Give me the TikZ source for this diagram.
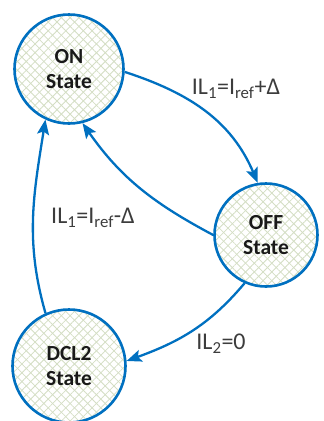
\documentclass[tikz,border=0pt]{standalone}
\usepackage{fontspec}
\setmainfont{Carlito}
\usetikzlibrary{arrows.meta,patterns.meta}
\definecolor{stblue}{RGB}{0,112,192}
\definecolor{hatch}{RGB}{212,222,196}
\definecolor{lbl}{RGB}{60,60,60}
\newcommand{\sbs}[1]{\textsubscript{#1}}
\tikzset{
  statenode/.style={circle, inner sep=0pt, draw=stblue, line width=2.6pt,
    preaction={fill=white},
    preaction={pattern={Lines[angle=45,distance=6.2pt,line width=.8pt]}, pattern color=hatch},
    preaction={pattern={Lines[angle=-45,distance=6.2pt,line width=.8pt]}, pattern color=hatch},
    font=\fontsize{21.5}{25}\selectfont\bfseries, text=black!90, align=center},
  conn/.style={draw=stblue, line width=2.3pt, -{Stealth[length=15pt,width=12pt,inset=3pt]}},
  elabel/.style={font=\fontsize{24}{28}\selectfont, text=lbl, inner sep=0pt}
}
\begin{document}
\begin{tikzpicture}[x=1pt,y=-1pt]
\useasboundingbox (0,0) rectangle (324,421);
\node[statenode, minimum size=109pt] (on) at (69,69) {ON\\State};
\node[statenode, minimum size=103pt] (off) at (266,235) {OFF\\State};
\node[statenode, minimum size=113pt] (dcl) at (69,366) {DCL2\\State};
\draw[conn] (on.-3) to[out=-18,in=113] (off.99);
\draw[conn] (off.180) to[out=152,in=-55] (on.-76);
\draw[conn] (off.-114) to[out=-130,in=20] (dcl.5);
\draw[conn] (dcl.114) to[out=106,in=-99] (on.-115);
\node[elabel] (l1) at (236,89) {IL\sbs{1}=I\sbs{ref}+Δ};
\node[elabel] (l2) at (93,218) {IL\sbs{1}=I\sbs{ref}-Δ};
\node[elabel] (l3) at (221,344) {IL\sbs{2}=0};
\end{tikzpicture}
\end{document}
